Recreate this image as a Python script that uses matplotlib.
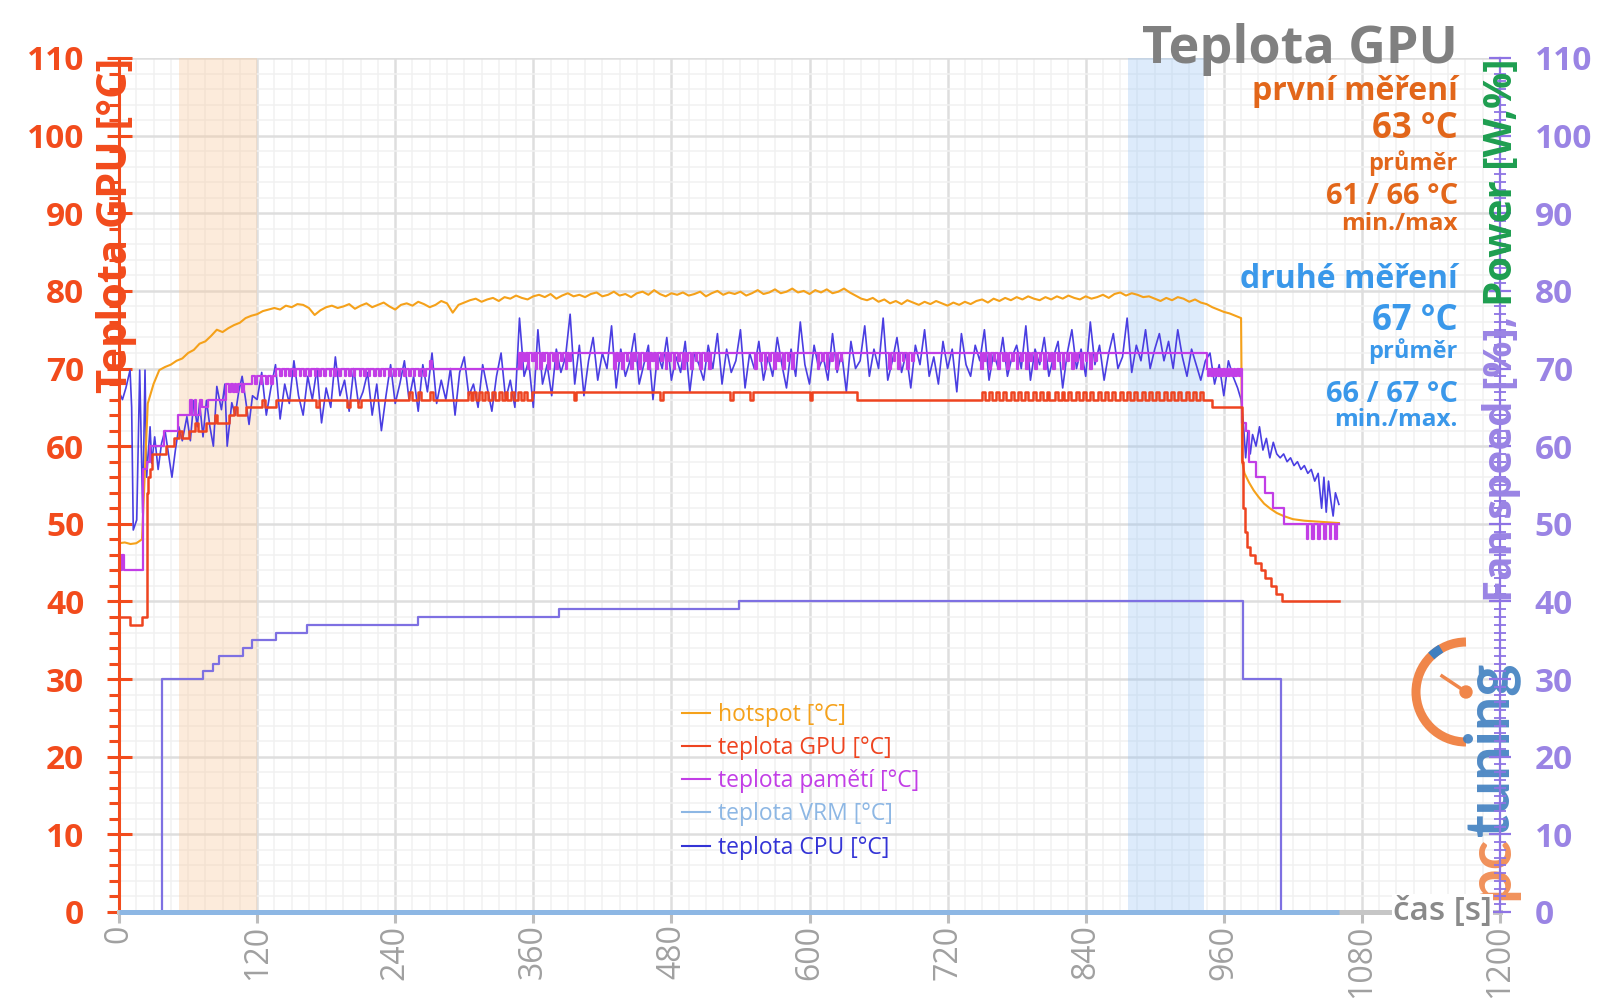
import numpy as np
import matplotlib
matplotlib.use('Agg')
import matplotlib.pyplot as plt
from matplotlib.ticker import MultipleLocator
from matplotlib.lines import Line2D
from matplotlib.patches import Arc, Circle

plt.rcParams['font.family'] = ['Open Sans', 'DejaVu Sans']

# ---------------- data ----------------
x_ticks = list(range(0, 1201, 120))
y_ticks = list(range(0, 111, 10))
band_first = (52, 120)
band_second = (877, 943)

# hotspot, every 5 s from 0 to 975
hotspot_main = [
    47.5, 47.6, 47.4, 47.5, 48.0, 65.5, 68.0, 69.8, 70.2, 70.5,
    71.0, 71.3, 72.0, 72.4, 73.2, 73.5, 74.2, 75.0, 74.7, 75.2,
    75.6, 75.9, 76.5, 76.8, 77.0, 77.4, 77.6, 77.8, 77.6, 78.1,
    77.9, 78.3, 78.2, 77.8, 76.9, 77.5, 77.9, 78.1, 77.8, 78.0,
    78.3, 77.7, 78.1, 78.4, 77.9, 78.2, 78.5, 78.0, 77.6, 78.2,
    78.4, 78.1, 78.6, 78.3, 77.9, 78.2, 78.7, 78.4, 77.2, 78.2,
    78.5, 78.8, 79.0, 78.6, 78.9, 79.1, 78.7, 79.2, 79.0, 79.4,
    79.1, 78.9, 79.3, 79.5, 79.2, 79.6, 79.0, 79.4, 79.7, 79.3,
    79.5, 79.2, 79.6, 79.8, 79.3, 79.5, 79.9, 79.4, 79.6, 79.2,
    79.7, 79.9, 79.5, 80.1, 79.6, 79.3, 79.7, 79.5, 79.8, 79.4,
    79.6, 79.9, 79.3, 79.7, 80.0, 79.5, 79.8, 79.6, 79.9, 79.4,
    79.7, 80.1, 79.6, 79.8, 80.2, 79.7, 79.9, 80.3, 79.8, 80.0,
    79.6, 80.1, 79.8, 80.2, 79.7, 79.9, 80.3, 79.8, 79.4, 79.0,
    78.8, 79.1, 78.6, 78.9, 78.4, 78.7, 78.3, 78.8, 78.5, 78.2,
    78.6, 78.3, 78.7, 78.4, 78.1, 78.5, 78.2, 78.6, 78.3, 78.7,
    78.9, 78.5, 79.0, 78.7, 79.1, 78.8, 79.2, 78.9, 79.3, 79.0,
    78.8, 79.2, 78.9, 79.3, 79.0, 79.4, 79.1, 78.9, 79.3, 79.0,
    79.2, 79.5, 79.1, 79.6, 79.8, 79.4, 79.7, 79.5, 79.2, 79.3,
    79.0, 78.7, 79.1, 78.8, 79.2, 79.0, 78.6, 78.9, 78.5, 78.3,
    77.9, 77.6, 77.3, 77.1, 76.8, 76.5]
hotspot_tail_time = [976, 978, 982, 986, 990, 995, 1000, 1006, 1012, 1020, 1030, 1040, 1050, 1060]
hotspot_tail_temp = [58.0, 56.5, 55.3, 54.3, 53.5, 52.6, 52.0, 51.4, 51.0, 50.6, 50.4, 50.3, 50.2, 50.1]

# GPU temperature: level changes + short blips
gpu_time = [0, 9.5, 19.7, 24, 25, 27, 29, 40.5, 47.8, 60.8,
            75.3, 95.6, 110, 136, 359, 641, 950, 976, 977, 978,
            980, 983, 987, 992, 996, 1001, 1005, 1011, 1060]
gpu_temp = [38, 37, 38, 54, 56, 57, 59, 60, 61, 62,
            63, 64, 65, 66, 67, 66, 65, 58, 52, 49,
            47, 46, 45, 44, 43, 42, 41, 40, 40]
gpu_blip_time = [52, 66, 83, 100, 124, 171, 198, 208, 252, 260, 270,
                 303, 308, 313, 318, 324, 330, 335, 341, 347, 352,
                 395, 470, 531, 548, 600,
                 750, 756, 762, 768, 775, 781, 787, 794, 800, 806,
                 813, 819, 825, 832, 838, 844, 851, 857, 863, 870,
                 876, 882, 889, 895, 901, 908, 914, 920, 927, 933, 939]
gpu_blip_temp = [62, 63, 64, 65, 66, 65, 65, 65, 67, 67, 67,
                 67, 67, 67, 67, 67, 67, 67, 67, 67, 67,
                 66, 66, 66, 66, 66,
                 67, 67, 67, 67, 67, 67, 67, 67, 67, 67,
                 67, 67, 67, 67, 67, 67, 67, 67, 67, 67,
                 67, 67, 67, 67, 67, 67, 67, 67, 67, 67, 67]

# memory temperature: level changes + short dips
mem_time = [0, 1, 2, 3, 4, 21, 24, 27, 39, 51,
            62, 63, 66, 67, 70, 72, 77, 93, 116, 136,
            270, 272, 348, 945, 976, 979, 982, 988, 996, 1003,
            1012, 1060]
mem_temp = [44, 46, 44, 46, 44, 57, 58, 60, 62, 64,
            66, 64, 66, 64, 66, 65, 66, 68, 69, 70,
            71, 70, 72, 70, 63, 62, 58, 56, 54, 52,
            50, 50]
mem_dip_time = [96, 99, 102, 107, 118, 123, 128, 132,
                140, 144, 148, 152, 157, 161, 165, 170, 174, 178,
                183, 187, 191, 196, 200, 204, 209, 213, 217, 222,
                226, 230, 235, 239, 243, 248, 252, 256, 261, 265,
                349, 352, 355, 359, 362, 366, 369, 373, 377, 380, 384, 388, 391,
                430, 434, 437, 441, 445, 448, 452, 456, 460, 463,
                467, 471, 475, 478, 482, 486, 490, 493, 497, 501, 505, 509, 513,
                553, 557, 561, 565, 569, 573, 577, 581, 585,
                607, 611, 615, 619, 623, 627,
                669, 673, 677, 681, 685, 689,
                749, 752, 756, 760, 764, 768, 772, 776, 780, 784,
                788, 792, 796, 800, 804, 808, 812, 816, 820, 824,
                828, 832, 836, 840, 844, 848,
                946, 949, 952, 955, 958, 961, 964, 967, 970, 973,
                1032, 1037, 1042, 1047, 1052, 1057]
mem_dip_temp = [67, 67, 67, 67, 68, 68, 68, 68,
                69, 69, 69, 69, 69, 69, 69, 69, 69, 69,
                69, 69, 69, 69, 69, 69, 69, 69, 69, 69,
                69, 69, 69, 69, 69, 69, 69, 69, 69, 69,
                70, 71, 70, 71, 70, 70, 71, 70, 71, 70, 71, 70, 71,
                70, 71, 70, 71, 70, 71, 70, 71, 70, 71,
                70, 71, 70, 71, 70, 71, 70, 71, 70, 71, 70, 71, 70,
                70, 71, 70, 71, 70, 71, 70, 71, 70,
                70, 71, 70, 71, 70, 71,
                70, 71, 70, 71, 70, 71,
                70, 71, 70, 71, 70, 71, 70, 71, 70, 71,
                70, 71, 70, 71, 70, 71, 70, 71, 70, 71,
                70, 71, 70, 71, 70, 71,
                69, 69, 69, 69, 69, 69, 69, 69, 69, 69,
                48, 48, 48, 48, 48, 48]

# VRM temperature (reads 0 during the whole run)
vrm_time = [0, 1060]
vrm_temp = [0, 0]

# CPU temperature
cpu_early_time = [0, 3, 6, 9.6, 11, 12.4, 15.4, 18, 20.6, 22.6,
                  24, 27, 28.4, 31, 34, 37, 40, 43, 46, 49,
                  52, 55, 59, 62, 65, 68, 70, 73, 76, 79,
                  82, 85, 89, 92, 94, 98, 101, 104, 107, 110,
                  113, 116]
cpu_early_temp = [67, 66, 67.5, 69.8, 65, 49.2, 50.5, 69.8, 51.4, 69.8,
                  56, 62.5, 57.8, 61.2, 57, 60.4, 62, 59, 56, 59.5,
                  62.5, 60.7, 63.8, 60.7, 65.9, 62.5, 65.6, 61.2, 65.9, 62.5,
                  60, 67.7, 64.7, 68, 60, 65.6, 64, 67, 69, 66,
                  62.8, 66.5]
# every 4 s from 120 s
cpu_main_temp = [
    66.0, 69.5, 64.0, 67.5, 70.5, 63.5, 68.0, 65.5, 71.0, 66.5,
    64.0, 69.0, 66.0, 70.0, 63.0, 67.5, 65.0, 71.5, 66.5, 68.5,
    64.5, 70.0, 65.5, 67.0, 69.5, 64.0, 68.0, 62.0, 66.5, 70.5,
    65.5, 68.0, 71.0,
    66.0, 69.0, 64.5, 70.5, 67.0, 72.0, 65.5, 68.5, 66.0, 70.0,
    64.0, 69.5, 71.5, 66.5, 68.0, 65.0, 70.5, 67.5, 64.5, 69.0,
    72.0, 66.0, 68.5, 65.0, 76.5, 69.0, 71.0, 65.0, 75.0, 68.0,
    70.5, 66.5, 72.5,
    69.5, 71.5, 77.0, 68.0, 73.0, 66.5, 71.0, 74.0, 68.5, 72.0,
    70.0, 75.5, 67.5, 72.5, 69.0, 71.0, 74.5, 68.0, 70.5, 73.0,
    66.0, 72.0, 70.0, 74.0, 68.5, 71.5, 69.5, 73.5, 67.0, 72.0,
    70.5, 68.5, 73.0,
    70.0, 74.5, 68.0, 72.5, 69.5, 71.0, 75.0, 67.5, 72.0, 70.0,
    73.5, 68.5, 71.5, 69.0, 74.0, 70.5, 67.5, 72.5, 69.0, 76.0,
    70.5, 68.0, 73.0, 70.0, 71.5, 68.5, 74.5, 69.5, 72.0, 67.0,
    73.5, 70.0, 71.0,
    75.5, 69.0, 72.5, 70.0, 76.5, 68.5, 71.0, 74.0, 69.5, 72.0,
    67.5, 73.0, 70.5, 75.0, 69.0, 71.5, 68.0, 73.5, 70.0, 72.5,
    67.0, 74.5, 70.5, 69.0, 73.0, 71.0, 75.0, 68.5, 72.0, 70.0,
    74.0, 69.0, 71.5,
    73.0, 70.0, 75.5, 68.5, 72.5, 70.5, 74.0, 69.0, 71.5, 73.5,
    67.5, 72.0, 75.0, 70.0, 72.5, 69.0, 76.0, 70.5, 73.0, 68.5,
    72.0, 74.5, 70.0, 71.5, 76.5, 69.5, 73.0, 71.0, 75.0, 70.0,
    72.5, 74.5, 71.0,
    73.5, 70.0, 75.0, 71.5, 69.0, 72.5, 70.5, 68.5, 71.0, 72.0,
    68.0, 70.5, 66.5, 71.0, 69.0, 67.5]
cpu_tail_time = [975, 977, 979, 981, 983, 985, 988, 991, 994, 997,
                 1000, 1003, 1006, 1009, 1012, 1015, 1018, 1021, 1024, 1027,
                 1030, 1033, 1036, 1039, 1042, 1045, 1047, 1049, 1051, 1053,
                 1055, 1057, 1060]
cpu_tail_temp = [66.0, 63.0, 58.5, 62.0, 59.0, 61.5, 60.0, 62.5, 59.5, 61.0,
                 58.5, 60.5, 59.0, 58.5, 59.0, 58.0, 58.5, 57.5, 58.0, 57.0,
                 57.5, 56.5, 57.0, 55.5, 56.5, 52.0, 56.0, 51.5, 55.5, 53.0,
                 51.0, 54.0, 52.5]

# fan speed [%]
fan_time = [0, 37, 72.7, 82, 87, 108, 116, 136, 163, 259.5, 382, 539, 977, 1010, 1060]
fan_speed = [0, 30, 31, 32, 33, 34, 35, 36, 37, 38, 39, 40, 30, 0, 0]

legend_labels = ['hotspot [°C]', 'teplota GPU [°C]', 'teplota pamětí [°C]',
                 'teplota VRM [°C]', 'teplota CPU [°C]']

# ---------------- helpers ----------------
def with_blips(base_t, base_v, blip_t, blip_v, dur):
    base_t = np.asarray(base_t, float)
    base_v = np.asarray(base_v, float)
    ev = list(zip(base_t, base_v))
    for t, v in zip(blip_t, blip_v):
        ev.append((t, v))
        back = base_v[np.searchsorted(base_t, t + dur, side='right') - 1]
        ev.append((t + dur, back))
    ev.sort(key=lambda e: e[0])
    return [e[0] for e in ev], [e[1] for e in ev]

hs_t = np.concatenate([np.arange(0, 5 * len(hotspot_main), 5), hotspot_tail_time])
hs_v = np.concatenate([hotspot_main, hotspot_tail_temp])
cpu_t = np.concatenate([cpu_early_time, np.arange(120, 120 + 4 * len(cpu_main_temp), 4), cpu_tail_time])
cpu_v = np.concatenate([cpu_early_temp, cpu_main_temp, cpu_tail_temp])
gpu_t, gpu_v = with_blips(gpu_time, gpu_temp, gpu_blip_time, gpu_blip_temp, 2.5)
mem_t, mem_v = with_blips(mem_time, mem_temp, mem_dip_time, mem_dip_temp, 1.5)

# ---------------- styles ----------------
RED = '#F24B1C'
PURPLE = '#8E74E4'
PURPLE_T = '#9A84E4'
GREEN = '#1E9E50'
ORANGE_T = '#E2661A'
BLUE_T = '#3A98EA'
HOT_C = '#F5A11A'
GPU_C = '#EE4420'
MEM_C = '#C23EE6'
VRM_C = '#8DB7E4'
CPU_C = '#4A3EE2'
FAN_C = '#7E70E2'

W, H = 1600, 1008
L, R, T, B = 119, 1500, 58, 912

fig = plt.figure(figsize=(W / 100, H / 100), dpi=100)
fig.patch.set_facecolor('white')
ax = fig.add_axes([L / W, 1 - B / H, (R - L) / W, (B - T) / H])
ax.set_xlim(0, 1200)
ax.set_ylim(0, 110)

for s in ('top', 'right'):
    ax.spines[s].set_visible(False)
ax.spines['left'].set_color(RED)
ax.spines['left'].set_linewidth(2.2)
ax.spines['bottom'].set_color('#C6C6C6')
ax.spines['bottom'].set_linewidth(3.6)

ax.set_xticks(x_ticks)
ax.set_yticks(y_ticks)
ax.xaxis.set_minor_locator(MultipleLocator(15))
ax.yaxis.set_minor_locator(MultipleLocator(2))
ax.tick_params(axis='x', which='major', direction='out', length=8, width=2.2,
               color='#BDBDBD', labelsize=23, labelcolor='#A0A0A0',
               labelrotation=90, pad=1)
ax.tick_params(axis='x', which='minor', length=0)
ax.tick_params(axis='y', which='major', direction='inout', length=18, width=2.2,
               color=RED, labelsize=24, labelcolor=RED, pad=16)
ax.tick_params(axis='y', which='minor', direction='out', length=7, width=2.2, color=RED)
for lab in ax.get_yticklabels():
    lab.set_fontweight('bold')

ax.set_axisbelow(True)
ax.grid(which='major', color='#DEDEDE', lw=1.8)
ax.grid(which='minor', color='#F1F1F1', lw=1.1)

ax.axvspan(*band_first, color='#F9C89A', alpha=0.35, lw=0, zorder=0.6)
ax.axvspan(*band_second, color='#8FC0F5', alpha=0.30, lw=0, zorder=0.6)

ax.plot(cpu_t, cpu_v, color=CPU_C, lw=1.2, zorder=2.0)
ax.plot(fan_time, fan_speed, drawstyle='steps-post', color=FAN_C, lw=1.6, zorder=2.1)
ax.plot(hs_t, hs_v, color=HOT_C, lw=1.5, zorder=2.2)
ax.plot(mem_t, mem_v, drawstyle='steps-post', color=MEM_C, lw=1.6, zorder=2.3)
ax.plot(gpu_t, gpu_v, drawstyle='steps-post', color=GPU_C, lw=1.8, zorder=2.4)
ax.plot(vrm_time, vrm_temp, color=VRM_C, lw=3.6, zorder=3, clip_on=False,
        solid_capstyle='butt')

leg_colors = [HOT_C, GPU_C, MEM_C, VRM_C, '#3434D6']
handles = [Line2D([], [], color=c, lw=1.5) for c in leg_colors]
ax.legend(handles, legend_labels, loc='upper left',
          bbox_to_anchor=(682 / W, 1 - 703 / H), bbox_transform=fig.transFigure,
          frameon=False, fontsize=16.5, handlelength=1.2, handletextpad=0.35,
          labelspacing=0.4, borderpad=0, borderaxespad=0, labelcolor=leg_colors)

# right axis
ax2 = ax.twinx()
ax2.set_zorder(1)
ax2.set_ylim(0, 110)
ax2.set_yticks(y_ticks)
ax2.yaxis.set_minor_locator(MultipleLocator(1))
for s in ('top', 'left', 'bottom'):
    ax2.spines[s].set_visible(False)
ax2.spines['right'].set_color(PURPLE)
ax2.spines['right'].set_linewidth(1.6)
ax2.tick_params(axis='y', which='major', direction='inout', length=16, width=1.6,
                color=PURPLE, labelsize=24, labelcolor=PURPLE_T, pad=17)
ax2.tick_params(axis='y', which='minor', direction='inout', length=8, width=1.3,
                color=PURPLE)
for lab in ax2.get_yticklabels():
    lab.set_fontweight('bold')

renderer = fig.canvas.get_renderer()

def ftext(x, y, s, **kw):
    return fig.text(x / W, 1 - y / H, s, **kw)

# left axis title
ftext(127, 58, 'Teplota GPU [°C]', rotation=90, rotation_mode='anchor',
      ha='right', va='baseline', fontsize=30, fontweight='bold', color=RED)

# right axis title in two colours
t_pow = ftext(1512, 58, 'Power [W,%]', rotation=90, rotation_mode='anchor',
              ha='right', va='baseline', fontsize=29, fontweight='bold', color=GREEN)
pow_len = t_pow.get_window_extent(renderer).height
ftext(1512, 58 + pow_len, 'Fan speed [%], ', rotation=90, rotation_mode='anchor',
      ha='right', va='baseline', fontsize=29, fontweight='bold', color=PURPLE_T)

# title and summary block
ftext(1458, 63, 'Teplota GPU', ha='right', va='baseline', fontsize=37.5,
      fontweight='bold', color='#808080')
block = [('první měření', 100, 23, ORANGE_T),
         ('63 °C', 138, 25, ORANGE_T),
         ('průměr', 170, 17, ORANGE_T),
         ('61 / 66 °C', 204, 21, ORANGE_T),
         ('min./max', 230, 17.5, ORANGE_T),
         ('druhé měření', 288, 23, BLUE_T),
         ('67 °C', 330, 25, BLUE_T),
         ('průměr', 358, 17, BLUE_T),
         ('66 / 67 °C', 402, 21, BLUE_T),
         ('min./max.', 426, 17.5, BLUE_T)]
for s, yb, fs, col in block:
    ftext(1458, yb, s, ha='right', va='baseline', fontsize=fs, fontweight='bold',
          color=col)

# x axis title
ftext(1492, 912, 'čas [s]', ha='right', va='center', fontsize=24, color='#8A8A8A',
      fontweight='semibold', zorder=5,
      bbox=dict(facecolor='white', edgecolor='none', pad=1))

# logo overlay
ov = fig.add_axes([0, 0, 1, 1], zorder=0.7)
ov.set_xlim(0, W)
ov.set_ylim(H, 0)
ov.axis('off')
ov.patch.set_visible(False)
ov.add_patch(Arc((1466, 692), 100, 100, theta1=90, theta2=270, color='#F0864A', lw=6.5))
ov.add_patch(Arc((1466, 692), 100, 100, theta1=226, theta2=240, color='#3F7FC0', lw=6.5))
ov.plot([1466, 1442], [692, 676], color='#F0864A', lw=2.5)
ov.add_patch(Circle((1466, 692), 6, color='#F0864A'))
t_pc = ov.text(1508, 900, 'pc', rotation=90, rotation_mode='anchor', ha='left',
               va='baseline', fontsize=44, fontweight='bold', color='#F0864A',
               family=['Lato', 'DejaVu Sans'], alpha=0.9)
pc_len = t_pc.get_window_extent(renderer).height
ov.text(1508, 900 - pc_len, 'tuning', rotation=90, rotation_mode='anchor', ha='left',
        va='baseline', fontsize=44, fontweight='bold', color='#3F7FC0',
        family=['Lato', 'DejaVu Sans'], alpha=0.9)

fig.savefig('out.png', dpi=100, facecolor='white')
